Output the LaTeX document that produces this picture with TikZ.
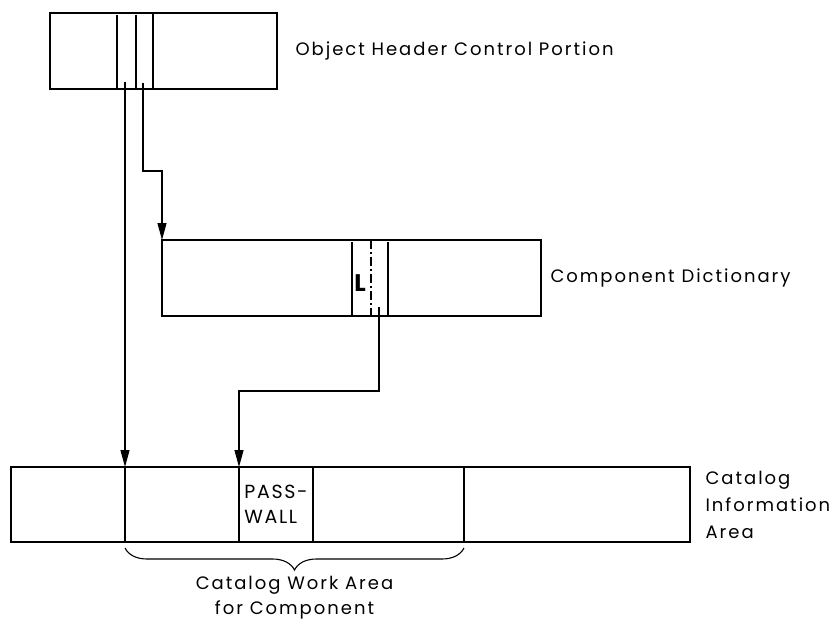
\documentclass[tikz,border=0pt]{standalone}
\usepackage{fontspec}
\setmainfont{Poppins}
\usetikzlibrary{arrows.meta, positioning, calc, decorations.pathreplacing}

\begin{document}
\begin{tikzpicture}[x=1pt, y=-1pt,
        line width=1.1pt,
        box/.style={draw, rectangle, inner sep=0pt, outer sep=0pt, anchor=north west, minimum height=76pt},
        cell/.style={draw, rectangle, inner sep=0pt, outer sep=0pt, minimum height=75pt},
        lbl/.style={font=\fontsize{18}{25}\selectfont\addfontfeatures{LetterSpace=11}, align=left, inner sep=0pt},
        arr/.style={-{Triangle[length=17pt, width=9pt]}},
        brc/.style={decorate, decoration={brace, mirror, amplitude=22pt, aspect=0.5}},
        dashdot/.style={dash pattern=on 9pt off 3pt on 2pt off 3pt}
      ]
        \useasboundingbox (0,0) rectangle (835,623);
        % Object Header
        \node[box, minimum width=227pt] (ohc) at (50,13) {};
        \draw (117,15) -- (117,90);
        \draw (136,15) -- (136,89);
        \draw (153,13) -- (153,89);
        \node[lbl, right=18pt of ohc] (ohl) {Object Header Control Portion};
        % Component Dictionary
        \node[box, minimum width=379pt] (cd) at (162,240) {};
        \draw (352,242) -- (352,316);
        \draw[dashdot] (371,240) -- (371,316);
        \draw (388,242) -- (388,316);
        \node[font=\fontsize{24}{24}\selectfont\bfseries, inner sep=0pt] (len) at (360,283) {L};
        \node[lbl, right=9pt of cd] (cdl) {Component Dictionary};
        % Catalog Information Area
        \node[cell, anchor=north west, minimum width=114pt] (ci1) at (11,467) {};
        \node[cell, right=0pt of ci1, minimum width=114pt] (cw1) {};
        \node[cell, right=0pt of cw1, minimum width=74pt, align=left,
              font=\fontsize{19}{25}\selectfont\addfontfeatures{LetterSpace=9}] (pw) {PASS-\\WALL};
        \node[cell, right=0pt of pw, minimum width=151pt] (cw2) {};
        \node[cell, right=0pt of cw2, minimum width=226pt] (ci2) {};
        \node[lbl, right=15pt of ci2, font=\fontsize{18}{27}\selectfont\addfontfeatures{LetterSpace=11}] (cil) {Catalog\\Information\\Area};
        % pointers
        \coordinate (s1) at (125,82);
        \coordinate (s2) at (143,83);
        \coordinate (s3) at (379,307);
        \draw[arr] (s1) -- (cw1.north west);
        \draw[arr] (s2) -- (143,171) -| (cd.north west);
        \draw[arr] (s3) -- (379,391) -| (pw.north west);
        % work area
        \draw[brc] ($(cw1.south west)+(0,6)$) -- ($(cw2.south east)+(0,6)$)
          node[lbl, midway, below=28pt, align=center] (cwl) {Catalog Work Area\\for Component};
      \end{tikzpicture}
\end{document}
